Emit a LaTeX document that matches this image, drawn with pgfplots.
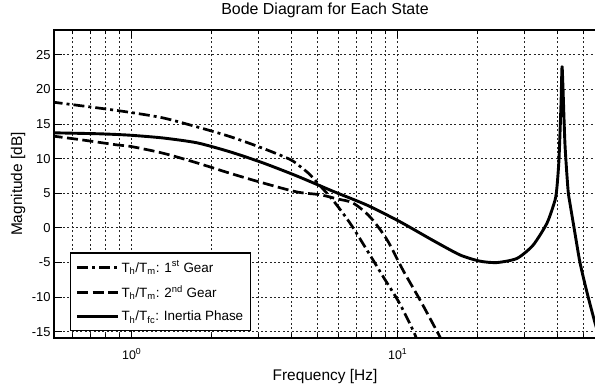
\documentclass[border=0pt]{standalone}
\usepackage{fontspec}
\setmainfont{Liberation Sans}
\usepackage{pgfplots}
\pgfplotsset{compat=1.18}

% Magnitude responses (frequency in Hz, magnitude in dB)
\pgfplotstableread{
f      db
0.50   18.2
0.760  17.3
0.985  16.7
1.311  15.9
1.760  14.6
2.342  13.2
3.117  11.5
3.937  9.9
4.293  8.9
4.681  7.7
5.105  6.1
5.713  4.0
6.618  0.7
7.666  -3.2
8.806  -7.0
10.20  -11.0
11.61  -15.4
11.85  -16.6
}\firstgear

\pgfplotstableread{
f      db
0.50   13.3
0.656  12.7
0.880  12.0
0.985  11.8
1.311  10.8
1.760  9.4
2.342  7.9
3.117  6.5
4.182  5.2
5.105  4.8
5.914  4.2
6.792  3.6
7.869  1.6
9.116  -1.7
10.47  -6.1
12.13  -10.4
14.17  -15.2
14.80  -16.6
}\secondgear

\pgfplotstableread{
f      db
0.50   13.75
0.760  13.6
0.985  13.4
1.311  13.0
1.760  12.3
2.342  11.0
3.117  9.4
4.182  7.5
5.713  5.3
7.666  3.3
10.20  0.9
13.57  -1.8
17.15  -3.9
20.39  -4.8
23.62  -5.0
28.09  -4.4
32.27  -2.5
36.42  0.7
39.04  4.0
39.72  6.0
40.41  10.0
41.12  18.0
41.48  23.3
41.84  20.0
42.56  12.0
43.69  5.5
44.45  3.5
46.41  -0.8
48.45  -5.0
51.47  -9.3
55.17  -13.7
56.50  -15.0
}\inertia

\begin{document}
\begin{tikzpicture}
\begin{axis}[
  scale only axis,
  width=542bp, height=308bp,
  xmode=log,
  xmin=0.5104, xmax=55.66,
  ymin=-15.9, ymax=28.6,
  xtick={1,10},
  xticklabels={10\textsuperscript{0},10\textsuperscript{1}},
  minor xtick={0.6,0.7,0.8,0.9,2,3,4,5,6,7,8,9,20,30,40,50},
  ytick={-15,-10,...,25},
  ytick pos=left,
  tick align=inside,
  major tick length=8bp,
  minor tick length=4bp,
  tick style={black, line width=0.9bp},
  axis line style={black, line width=1.1bp},
  grid=both,
  major grid style={black!85, line width=0.9bp, dash pattern=on 2bp off 2.4bp},
  minor grid style={black!85, line width=0.9bp, dash pattern=on 2bp off 2.4bp},
  /pgf/number format/assume math mode=true,
  yticklabel style={font=\fontsize{13}{15}\selectfont},
  xticklabel style={font=\fontsize{12.5}{15}\selectfont, anchor=base, yshift=-21bp},
  title={Bode Diagram for Each State},
  title style={font=\fontsize{16}{18}\selectfont, at={(axis description cs:0.5,1)}, anchor=base, yshift=10bp},
  xlabel={Frequency [Hz]},
  xlabel style={font=\fontsize{15.5}{18}\selectfont, at={(axis description cs:0.5,0)}, anchor=base, yshift=-42bp},
  ylabel={Magnitude [dB]},
  ylabel style={font=\fontsize{15.5}{18}\selectfont, at={(axis description cs:-0.059,0.5)}, anchor=base, rotate=0},
  legend image code/.code={\draw[#1] (0bp,0bp) -- (41bp,0bp);},
  legend style={at={(0.0295,0.0227)}, anchor=south west, draw=black, line width=1.3bp,
    font=\fontsize{13.5}{15}\selectfont, cells={anchor=west}, row sep=8bp,
    inner xsep=5bp, inner ysep=6bp},
]
\addplot[black, line width=2.7bp, line cap=butt, dash pattern=on 11bp off 4bp on 3bp off 4bp, smooth]
  table[x=f, y=db] {\firstgear};
\addlegendentry{T\textsubscript{h}/T\textsubscript{m}: 1\textsuperscript{st} Gear}
\addplot[black, line width=2.7bp, line cap=butt, dash pattern=on 11bp off 4.5bp, smooth]
  table[x=f, y=db] {\secondgear};
\addlegendentry{T\textsubscript{h}/T\textsubscript{m}: 2\textsuperscript{nd} Gear}
\addplot[black, line width=2.9bp, line join=round, smooth, tension=0.4]
  table[x=f, y=db] {\inertia};
\addlegendentry{T\textsubscript{h}/T\textsubscript{fc}: Inertia Phase}
\end{axis}
\pgfresetboundingbox
\path[use as bounding box] (-54bp,-51bp) rectangle (541bp,338bp);
\end{tikzpicture}
\end{document}
